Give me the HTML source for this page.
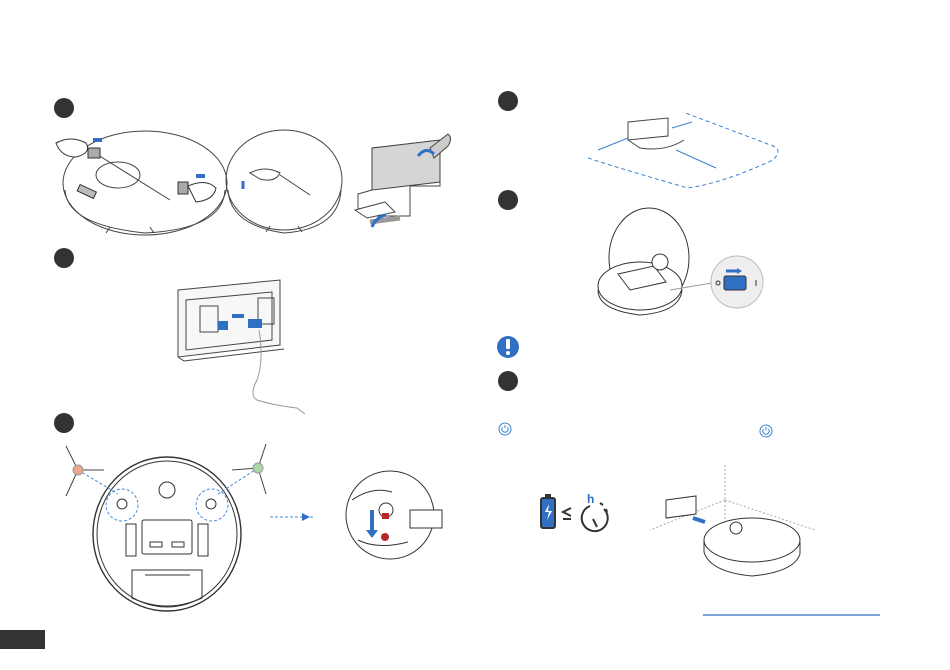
<!DOCTYPE html>
<html><head><style>
html,body{margin:0;padding:0;background:#fff;width:950px;height:670px;overflow:hidden}
svg{display:block}
</style></head><body>
<svg width="950" height="670" viewBox="0 0 950 670" xmlns="http://www.w3.org/2000/svg" fill="none" stroke="#333" stroke-width="1">
<g fill="#333" stroke="none">
<circle cx="64" cy="108" r="10"/>
<circle cx="64" cy="258" r="10"/>
<circle cx="64" cy="423" r="10"/>
<circle cx="508" cy="101" r="10"/>
<circle cx="508" cy="200" r="10"/>
<circle cx="508" cy="381" r="10"/>
<rect x="0" y="630" width="45" height="19"/>
</g>
<circle cx="508" cy="347" r="11" fill="#2f6fc4" stroke="none"/>
<rect x="506" y="339" width="4" height="10" fill="#fff" stroke="none" rx="1"/>
<circle cx="508" cy="353" r="2" fill="#fff" stroke="none"/>
<line x1="703" y1="615" x2="880" y2="615" stroke="#2f6fc4" stroke-width="1.2"/>
<g stroke="#3b82d0" stroke-width="1">
<circle cx="505" cy="429" r="6"/><path d="M502.5 427a3.2 3.2 0 1 0 5 0M505 425v3"/>
<circle cx="766" cy="431" r="6"/><path d="M763.5 429a3.2 3.2 0 1 0 5 0M766 427v3"/>
</g>
<!-- robot 1 -->
<g stroke="#444">
<ellipse cx="145" cy="183" rx="82" ry="52"/>
<path d="M65 190q2 35 80 43q78-4 80-43"/>
<ellipse cx="118" cy="175" rx="22" ry="13"/>
<line x1="90" y1="150" x2="170" y2="200"/>
<path d="M110 227l-4 6M150 227l4 6"/>
</g>
<rect x="78" y="188" width="18" height="7" fill="#bbb" transform="rotate(25 87 191)"/>
<rect x="88" y="148" width="12" height="10" fill="#aaa"/>
<rect x="178" y="182" width="10" height="12" fill="#aaa"/>
<path d="M56 143q15-8 30 0q6 10-10 14q-15 0-20-14z" fill="#fff"/>
<path d="M188 186q18-8 28 2q-2 12-20 14z" fill="#fff"/>
<path d="M102 140h-9M196 176h9" stroke="#2f6fc4" stroke-width="4"/>
<!-- robot 2 -->
<g stroke="#444">
<ellipse cx="284" cy="180" rx="58" ry="50"/>
<path d="M228 190q2 35 56 43q55-4 57-43"/>
<path d="M250 173q15-8 30 0q-5 10-20 6z"/>
<line x1="280" y1="175" x2="310" y2="195"/>
<path d="M270 226l-4 6M298 226l4 6"/>
</g>
<path d="M243 189v-8" stroke="#2f6fc4" stroke-width="3"/>
<!-- station top -->
<g stroke="#444">
<path d="M372 148l68-8v46h-30v30l-40 0l-12-8v-14l14-4z" fill="#fff"/>
<path d="M372 148l68-8v42l-68 8z" fill="#d5d5d5"/>
<path d="M430 148l18-14q5 4 0 12l-14 12z" fill="#ccc"/>
<path d="M355 210l30-8l10 10l-28 6z" fill="#fff"/>
<path d="M370 222l30-4" stroke="#999" stroke-width="5"/>
</g>
<path d="M418 156q8-10 16-2M372 227q4-10 14-12" stroke="#2f6fc4" stroke-width="3"/>
<!-- station back -->
<g stroke="#444">
<path d="M178 290l102-10v65l-102 12z" fill="#f7f7f7"/>
<path d="M186 300l86-8v48l-86 10z"/>
<rect x="200" y="306" width="18" height="26"/>
<rect x="258" y="298" width="16" height="26"/>
<path d="M178 357l6 4l100-12"/>
<path d="M259 330q5 30-2 50q-8 15 0 20q15 5 40 8l8 6" stroke="#999"/>
</g>
<rect x="218" y="321" width="10" height="9" fill="#2f6fc4" stroke="none"/>
<rect x="248" y="319" width="14" height="9" fill="#2f6fc4" stroke="none"/>
<path d="M244 316h-12" stroke="#2f6fc4" stroke-width="4"/>
<!-- robot bottom -->
<g stroke="#333">
<ellipse cx="167" cy="534" rx="74" ry="77" stroke-width="1.4"/>
<ellipse cx="167" cy="534" rx="70" ry="73"/>
<rect x="142" y="520" width="50" height="34" rx="2"/>
<rect x="126" y="524" width="10" height="32"/>
<rect x="198" y="524" width="10" height="32"/>
<rect x="150" y="542" width="12" height="5"/>
<rect x="172" y="542" width="12" height="5"/>
<path d="M132 570h70v28q-35 16-70 0z"/>
<path d="M145 575h45"/>
<circle cx="122" cy="504" r="5"/><circle cx="211" cy="504" r="5"/>
<circle cx="167" cy="490" r="8"/>
</g>
<g stroke="#4a8bd6" stroke-dasharray="3 2">
<circle cx="122" cy="505" r="16"/><circle cx="212" cy="505" r="16"/>
<path d="M78 470l40 24M258 468l-40 26"/>
<path d="M270 517h45"/>
</g>
<path d="M310 517l-8-4v8z" fill="#2f6fc4" stroke="none"/>
<g stroke="#444">
<path d="M78 470l-12-24M78 470l-12 26M78 470l26 0"/>
<path d="M258 468l8-24M258 468l8 26M258 468l-26 2"/>
</g>
<circle cx="78" cy="470" r="5" fill="#e9a78c" stroke="#999"/>
<circle cx="258" cy="468" r="5" fill="#a8d8a8" stroke="#999"/>
<!-- zoom circle -->
<g stroke="#333">
<circle cx="390" cy="515" r="44"/>
<path d="M352 500q20-14 40-8M358 540q20 10 50 2"/>
<rect x="410" y="510" width="32" height="18" fill="#fff"/>
<circle cx="386" cy="510" r="7" fill="#fff"/>
</g>
<rect x="382" y="513" width="7" height="6" fill="#b42828" stroke="none"/>
<circle cx="385" cy="537" r="4" fill="#b42828" stroke="none"/>
<path d="M372 510v22" stroke="#2f6fc4" stroke-width="4"/>
<path d="M366 530l6 8l6-8z" fill="#2f6fc4" stroke="none"/>
<!-- dock placement -->
<g stroke="#444">
<path d="M628 122l40-4v18l-40 4z" fill="#fff"/>
<path d="M628 140l12 8q25 4 44-8"/>
</g>
<g stroke="#3b82d0" stroke-dasharray="4 3">
<path d="M588 158q30 10 100 30q35-5 85-28q10-10 0-14l-90-34"/>
</g>
<g stroke="#3b82d0"><path d="M598 150l30-12M672 128l20-6M676 150l40 18"/></g>
<!-- robot with lid -->
<g stroke="#333">
<ellipse cx="649" cy="258" rx="40" ry="50"/>
<ellipse cx="640" cy="286" rx="42" ry="24" fill="#fff"/>
<path d="M598 290q0 20 42 25q40-3 42-25"/>
<path d="M618 274l36-8l12 16l-36 8z"/>
<circle cx="660" cy="262" r="8" fill="#fff"/>
<line x1="670" y1="290" x2="712" y2="283" stroke="#999"/>
</g>
<circle cx="737" cy="282" r="26" fill="#eee" stroke="#bbb"/>
<rect x="724" y="276" width="22" height="14" rx="2" fill="#2f6fc4" stroke="#333"/>
<path d="M726 271h12" stroke="#2f6fc4" stroke-width="3"/>
<path d="M742 271l-5-3v6z" fill="#2f6fc4" stroke="none"/>
<circle cx="718" cy="283" r="2"/>
<line x1="756" y1="280" x2="756" y2="286"/>
<!-- battery + clock -->
<rect x="541" y="498" width="14" height="30" rx="2" fill="#2f6fc4" stroke="#333" stroke-width="2"/>
<rect x="545" y="494" width="6" height="4" fill="#333" stroke="none"/>
<path d="M549 504l-4 8h4l-2 8l5-9h-4z" fill="#fff" stroke="none"/>
<path d="M571 508l-8 4l8 4M563 519h8" stroke="#333" stroke-width="2"/>
<path d="M590 506a13 13 0 1 0 14 3" stroke="#333" stroke-width="2"/>
<path d="M600 503l3 2M606 509l1 3" stroke="#333" stroke-width="2"/>
<path d="M593 519l4 8" stroke="#333" stroke-width="2"/>
<text x="587" y="503" font-family="Liberation Sans, sans-serif" font-size="12" font-weight="bold" fill="#2f6fc4" stroke="none">h</text>
<!-- corner dock scene -->
<g stroke="#aaa" stroke-dasharray="2 2">
<path d="M725 465v75M725 500l-75 30M725 500l90 30"/>
</g>
<g stroke="#333">
<path d="M666 500l30-4v18l-30 4z" fill="#fff"/>
<ellipse cx="752" cy="540" rx="48" ry="22" fill="#fff"/>
<path d="M704 540v12q6 20 48 24q42-4 48-22v-12"/>
<circle cx="736" cy="528" r="6" fill="#fff"/>
</g>
<path d="M705 522l-12-4" stroke="#2f6fc4" stroke-width="4"/>
</svg>
</body></html>
